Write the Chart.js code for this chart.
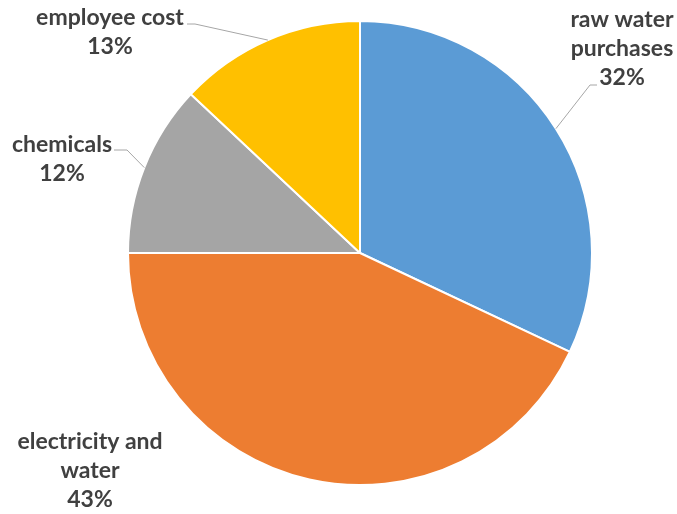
<!DOCTYPE html>
<html>
<head>
<meta charset="utf-8">
<script src="https://cdn.jsdelivr.net/npm/chart.js@4.4.0/dist/chart.umd.min.js"></script>
<style>
  html, body { margin: 0; padding: 0; background: #fff; }
  #wrap { width: 677px; height: 514px; }
</style>
</head>
<body>
<div id="wrap"><canvas id="grafico" width="677" height="514"></canvas></div>
<script>
// categorias y valores (%)
const categorias = [["raw water", "purchases"], ["electricity and", "water"], ["chemicals"], ["employee cost"]];
const valores = [32, 43, 12, 13];
const colores = ["#5B9BD5", "#ED7D31", "#A5A5A5", "#FFC000"];

// posicion de cada etiqueta respecto al borde del sector
const etiquetaPos = [
  { x: 622, y: 20, codo: [590, 85], fin: [597, 85] },
  { x: 90, y: 442, codo: null },
  { x: 62, y: 145, codo: [127, 150], fin: [114, 150] },
  { x: 110, y: 18, codo: [195, 24], fin: [187, 24] }
];

const etiquetasPlugin = {
  id: "etiquetas",
  afterDatasetsDraw(chart) {
    const ctx = chart.ctx;
    const arcs = chart.getDatasetMeta(0).data;
    ctx.save();
    arcs.forEach((arc, i) => {
      const p = etiquetaPos[i];
      const mid = (arc.startAngle + arc.endAngle) / 2;
      const ex = arc.x + Math.cos(mid) * arc.outerRadius;
      const ey = arc.y + Math.sin(mid) * arc.outerRadius;
      if (p.codo) {
        ctx.strokeStyle = "#A6A6A6";
        ctx.lineWidth = 1;
        ctx.beginPath();
        ctx.moveTo(ex, ey);
        ctx.lineTo(p.codo[0], p.codo[1]);
        ctx.lineTo(p.fin[0], p.fin[1]);
        ctx.stroke();
      }
      ctx.fillStyle = "#404040";
      ctx.font = "bold 23px Lato, 'Open Sans', sans-serif";
      ctx.textAlign = "center";
      ctx.textBaseline = "middle";
      const lineas = [...categorias[i], valores[i] + "%"];
      lineas.forEach((t, k) => ctx.fillText(t, p.x, p.y + k * 29));
    });
    ctx.restore();
  }
};

new Chart(document.getElementById("grafico"), {
  type: "pie",
  data: {
    labels: categorias.map(c => c.join(" ")),
    datasets: [{
      data: valores,
      backgroundColor: colores,
      borderColor: "#ffffff",
      borderWidth: 2
    }]
  },
  options: {
    responsive: false,
    animation: false,
    layout: { padding: { left: 127, right: 84, top: 20, bottom: 28 } },
    plugins: { legend: { display: false }, tooltip: { enabled: false } }
  },
  plugins: [etiquetasPlugin]
});
</script>
</body>
</html>
